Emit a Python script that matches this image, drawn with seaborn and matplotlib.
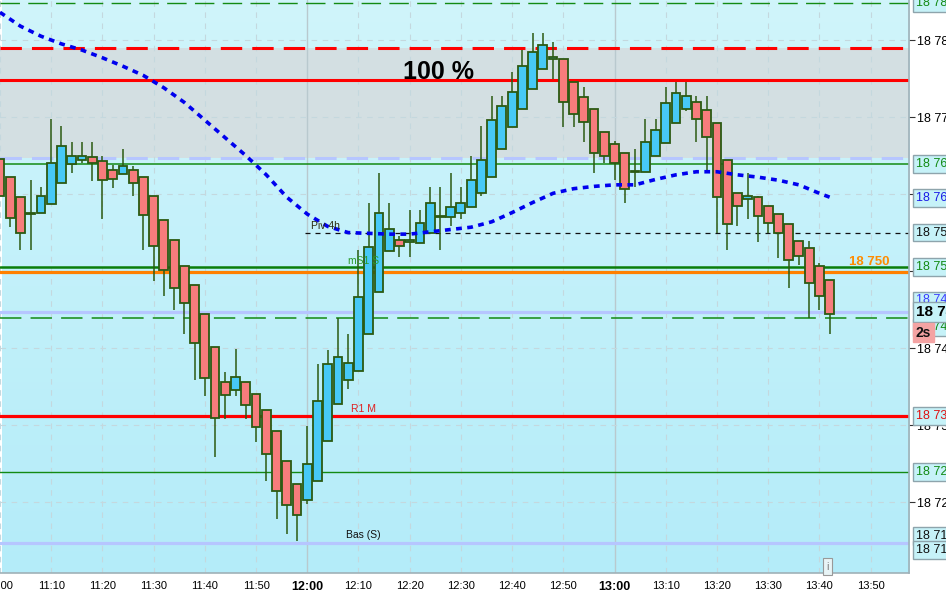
import numpy as np
import pandas as pd
import matplotlib
matplotlib.use("Agg")
import matplotlib.pyplot as plt
import seaborn as sns

# 2-minute candles from 11:00 to 13:42
times = pd.date_range("11:00", periods=82, freq="2min")
opens = [18764.5, 18762.2, 18759.6, 18757.4, 18757.5, 18758.7, 18761.4, 18763.9, 18764.4, 18764.8, 18764.3,
         18763.1, 18762.6, 18763.1, 18762.2, 18759.8, 18756.6, 18754.0, 18750.6, 18748.2, 18744.4,
         18740.2, 18735.6, 18734.6, 18735.6, 18734.0, 18731.9, 18729.2, 18725.4, 18722.4, 18720.3,
         18722.7, 18727.9, 18732.8, 18735.8, 18737.0, 18741.8, 18747.3, 18752.6, 18754.0, 18753.8,
         18753.7, 18755.0, 18757.0, 18757.0, 18757.6, 18758.3, 18760.1, 18762.2, 18765.9, 18768.7,
         18771.0, 18773.7, 18776.2, 18777.6, 18777.6, 18774.6, 18772.6, 18771.0, 18768.1, 18766.5,
         18765.3, 18762.9, 18762.9, 18764.9, 18766.6, 18769.2, 18771.1, 18772.0, 18770.9, 18769.2,
         18764.4, 18760.2, 18759.4, 18759.6, 18758.4, 18757.4, 18756.1, 18753.9, 18753.0, 18750.7,
         18748.8]
highs = [18764.5, 18762.2, 18759.6, 18761.8, 18760.9, 18769.8, 18768.8, 18766.8, 18766.8, 18766.8, 18764.9,
         18763.8, 18765.8, 18763.7, 18762.2, 18759.8, 18756.6, 18754.0, 18750.6, 18748.2, 18744.4,
         18740.2, 18736.9, 18739.9, 18735.6, 18734.0, 18731.9, 18729.2, 18725.4, 18722.4, 18729.9,
         18737.9, 18739.8, 18743.9, 18741.8, 18752.8, 18758.8, 18762.8, 18758.8, 18754.5, 18757.9,
         18757.9, 18760.9, 18760.9, 18762.8, 18760.9, 18764.9, 18768.8, 18772.8, 18772.8, 18775.8,
         18778.7, 18780.9, 18780.9, 18779.8, 18777.6, 18774.6, 18773.9, 18771.0, 18768.1, 18766.9,
         18765.3, 18765.8, 18769.8, 18769.8, 18773.9, 18774.5, 18774.5, 18772.8, 18772.8, 18769.2,
         18764.4, 18760.2, 18762.8, 18759.8, 18758.4, 18757.4, 18756.1, 18753.9, 18753.9, 18751.0,
         18748.8]
lows = [18759.7, 18755.7, 18752.7, 18752.7, 18757.5, 18758.7, 18761.4, 18762.8, 18764.0, 18761.7, 18756.8,
        18760.8, 18762.6, 18759.8, 18752.7, 18748.7, 18746.8, 18744.9, 18741.8, 18735.8, 18733.8,
        18725.8, 18730.8, 18733.8, 18730.8, 18727.8, 18722.8, 18717.8, 18715.8, 18715.0, 18719.8,
        18722.7, 18727.9, 18732.8, 18734.7, 18737.0, 18741.8, 18747.3, 18752.6, 18751.8, 18751.8,
        18753.7, 18755.0, 18752.8, 18755.8, 18756.8, 18758.3, 18759.8, 18762.2, 18765.9, 18768.7,
        18771.0, 18773.7, 18776.2, 18774.9, 18768.7, 18768.7, 18766.8, 18762.8, 18764.0, 18761.8,
        18758.8, 18760.9, 18762.9, 18764.9, 18766.6, 18769.2, 18770.8, 18766.8, 18762.8, 18754.9,
        18752.8, 18755.8, 18756.8, 18753.8, 18754.9, 18751.7, 18747.8, 18750.8, 18743.9, 18745.0,
        18741.8]
closes = [18759.7, 18756.9, 18755.0, 18757.6, 18759.8, 18764.1, 18766.3, 18765.0, 18765.0, 18764.1, 18761.8,
          18762.0, 18763.6, 18761.5, 18757.3, 18753.3, 18750.1, 18747.8, 18745.8, 18740.6, 18736.1,
          18730.9, 18733.9, 18736.3, 18732.6, 18729.8, 18726.3, 18721.5, 18719.6, 18718.3, 18725.0,
          18733.1, 18737.9, 18738.8, 18738.1, 18746.6, 18753.1, 18757.6, 18755.5, 18753.3, 18754.0,
          18756.3, 18758.8, 18757.2, 18758.3, 18758.8, 18761.8, 18764.4, 18769.6, 18771.4, 18773.3,
          18776.6, 18778.5, 18779.3, 18777.8, 18772.0, 18770.4, 18769.3, 18765.3, 18764.9, 18764.1,
          18760.6, 18763.0, 18766.8, 18768.3, 18771.8, 18773.1, 18772.8, 18769.8, 18767.4, 18759.6,
          18756.1, 18758.5, 18759.8, 18757.1, 18756.3, 18754.9, 18751.5, 18752.0, 18748.5, 18746.8,
          18744.4]

# moving average (blue dotted), read every 4 minutes
ma_min = [0, 4, 8, 12, 16, 20, 24, 28, 32, 36, 40, 44, 48, 52, 56, 60, 64, 68, 72, 76, 80, 84,
          88, 92, 96, 100, 104, 108, 112, 116, 120, 124, 128, 132, 136, 140, 144, 148, 152, 156, 160, 162]
ma_val = [18783.6, 18781.8, 18780.5, 18779.5, 18778.7, 18777.7, 18776.6, 18775.4, 18773.8, 18771.9,
          18769.6, 18767.3, 18765.0, 18762.5, 18759.6, 18757.4, 18755.8, 18755.0, 18754.9, 18754.8,
          18754.8, 18755.1, 18755.4, 18755.7, 18756.4, 18757.6, 18758.9, 18760.1, 18760.7, 18761.0,
          18761.2, 18761.2, 18761.9, 18762.5, 18762.9, 18762.9, 18762.5, 18762.2, 18761.8, 18761.2,
          18760.1, 18759.6]

# price levels drawn across the chart
lvl_green_top = 18784.8
lvl_red_dash = 18779.0
lvl_red_top = 18774.8
lvl_lav_dash = 18764.7
lvl_green_mid = 18763.9
lvl_piv = 18755.0
lvl_ms1 = 18750.5
lvl_orange = 18749.9
lvl_lav_mid = 18744.7
lvl_green_dash = 18743.9
lvl_r1 = 18731.2
lvl_green_low = 18723.9
lvl_bas = 18714.7

yticks = [18720, 18730, 18740, 18750, 18760, 18770, 18780]
xtick_labels = ["11:00", "11:10", "11:20", "11:30", "11:40", "11:50", "12:00", "12:10", "12:20",
                "12:30", "12:40", "12:50", "13:00", "13:10", "13:20", "13:30", "13:40", "13:50"]

# right-side price tags: (price, text, colour)
tags = [(18784.8, "18 785", "#138a13"), (18763.9, "18 764", "#138a13"), (18759.5, "18 760", "#1a1ae6"),
        (18755.0, "18 755", "#111111"), (18750.5, "18 751", "#138a13"), (18746.2, "18 749", "#3a3aff"),
        (18742.7, "18 744", "#138a13"), (18731.2, "18 731", "#e01010"), (18723.9, "18 724", "#138a13"),
        (18715.6, "18 715", "#111111"), (18713.8, "18 715", "#111111")]

sns.set_style("white")
plt.rcParams["font.family"] = ["Liberation Sans", "DejaVu Sans"]
plt.rcParams["text.color"] = "black"
plt.rcParams["xtick.color"] = "black"
plt.rcParams["ytick.color"] = "black"

df = pd.DataFrame({"t": times, "o": opens, "h": highs, "l": lows, "c": closes})
df["m"] = (df["t"] - df["t"].iloc[0]).dt.total_seconds() / 60
df["up"] = df["c"] >= df["o"]
ma = pd.DataFrame({"m": ma_min, "v": ma_val})

fig = plt.figure(figsize=(9.46, 5.91), dpi=100)
ax = fig.add_axes([0, 18 / 591, 909 / 946, 573 / 591])
x0, x1 = 0.39, 177.5
y0, y1 = 18710.8, 18785.2
ax.set_xlim(x0, x1)
ax.set_ylim(y0, y1)

# background gradient (lighter at the top) + grey zone
grad = np.linspace(0, 1, 256).reshape(-1, 1)
cmap = matplotlib.colors.LinearSegmentedColormap.from_list("bg", ["#d0f5fb", "#b4ecf9"])
ax.imshow(grad, extent=[x0, x1, y0, y1], aspect="auto", cmap=cmap, zorder=0, origin="upper")
ax.axhspan(lvl_lav_dash, lvl_red_dash, color="#d3dfe2", zorder=0.2, lw=0)

# grid
for m in range(0, 180, 10):
    if m in (60, 120):
        ax.axvline(m, color="#b9c9ce", lw=1, zorder=0.5)
    else:
        ax.axvline(m, color="#c4d8de", lw=0.8, ls=(0, (5, 5)), zorder=0.5)
for p in yticks:
    ax.axhline(p, color="#c4d8de", lw=0.8, ls=(0, (5, 5)), zorder=0.5)

# levels
ax.axhline(lvl_green_top, color="#138a13", lw=1, ls=(0, (14, 6)), zorder=1)
ax.axhline(lvl_red_dash, color="#ff0000", lw=2.2, ls=(0, (7, 3.3)), zorder=1)
ax.axhline(lvl_red_top, color="#ff0000", lw=2.2, zorder=1)
ax.axhline(lvl_lav_dash, color="#b6c6ff", lw=2.2, ls=(0, (7, 3.3)), zorder=1)
ax.axhline(lvl_green_mid, color="#138a13", lw=1.1, zorder=1)
ax.hlines(lvl_piv, 59.5, x1, color="#111111", lw=0.9, ls=(0, (4, 4)), zorder=1)
ax.axhline(lvl_ms1, color="#0a7d0a", lw=1.8, zorder=1)
ax.axhline(lvl_orange, color="#ff8000", lw=2.3, zorder=1)
ax.axhline(lvl_lav_mid, color="#b6c6ff", lw=2.3, zorder=1)
ax.axhline(lvl_green_dash, color="#138a13", lw=1.1, ls=(0, (14, 6)), zorder=1)
ax.axhline(lvl_r1, color="#ff0000", lw=2.3, zorder=1)
ax.axhline(lvl_green_low, color="#138a13", lw=1, zorder=1)
ax.axhline(lvl_bas, color="#b6c6ff", lw=2.3, zorder=1)

# candles
edge = "#2b5a12"
ax.vlines(df["m"], df["l"], df["h"], color=edge, lw=1.1, zorder=2)
body_lo = df[["o", "c"]].min(axis=1)
body_h = (df["c"] - df["o"]).abs().clip(lower=0.12)
ax.bar(df["m"], body_h, bottom=body_lo, width=1.72,
       color=np.where(df["up"], "#47c9f6", "#f77c7c"), edgecolor=edge, lw=1.3, zorder=3)

# moving average
sns.lineplot(data=ma, x="m", y="v", ax=ax, color="#0000ee", lw=2.6,
             linestyle=(0, (1.6, 1.5)), zorder=4, legend=False)
ax.set_xlabel("")
ax.set_ylabel("")

# chart texts
ax.text(85.7, 18775.8, "100 %", fontsize=18, fontweight="bold", color="black",
        ha="center", va="center", zorder=5)
ax.text(169.7, 18751.2, "18 750", fontsize=9.5, fontweight="bold", color="#ff8c00",
        ha="center", va="center", zorder=5)
ax.text(60.8, 18755.8, "Piv 4h", fontsize=7.5, color="#2a2a10", va="center", zorder=5)
ax.text(68.0, 18751.3, "mS1 S", fontsize=7.5, color="#2a9a2a", va="center", zorder=5)
ax.text(68.6, 18732.1, "R1 M", fontsize=7.5, color="#e02020", va="center", zorder=5)
ax.text(67.6, 18715.7, "Bas (S)", fontsize=7.5, color="#111111", va="center", zorder=5)
ax.text(161.6, 18711.6, "i", fontsize=7.5, color="#777777", ha="center", va="center", zorder=5,
        bbox=dict(boxstyle="square,pad=0.35", fc="#e8f4f6", ec="#999999", lw=0.8))

# axes, ticks
ax.yaxis.tick_right()
ax.set_yticks(yticks)
ax.set_yticklabels([f"{v:,}".replace(",", " ") for v in yticks], fontsize=9)
ax.set_xticks(list(range(0, 180, 10)))
ax.set_xticklabels(xtick_labels, fontsize=8)
for lab in ax.get_xticklabels():
    if lab.get_text() in ("12:00", "13:00"):
        lab.set_fontweight("bold")
        lab.set_fontsize(9)
ax.tick_params(axis="both", length=4, width=0.8, color="#333333", pad=2, direction="out")
for s in ("top", "left"):
    ax.spines[s].set_visible(False)
for s in ("right", "bottom"):
    ax.spines[s].set_color("#9fb1b8")
    ax.spines[s].set_linewidth(1.2)

tr = ax.get_yaxis_transform()
for price, txt, col in tags:
    ax.text(1.0075, price, txt, transform=tr, fontsize=9, color=col, va="center", ha="left",
            clip_on=False, zorder=6,
            bbox=dict(boxstyle="square,pad=0.22", fc="#c6f2f8", ec="#8ea4ac", lw=1))
ax.text(1.0075, lvl_lav_mid, "18 744", transform=tr, fontsize=11, fontweight="bold", color="#000000",
        va="center", ha="left", clip_on=False, zorder=7,
        bbox=dict(boxstyle="square,pad=0.18", fc="#c6f2f8", ec="#8ea4ac", lw=1))
ax.text(1.0075, 18742.0, "2s", transform=tr, fontsize=10, fontweight="bold", color="#111111",
        va="center", ha="left", clip_on=False, zorder=8,
        bbox=dict(boxstyle="square,pad=0.2", fc="#f4a3a3", ec="#f4a3a3", lw=1))

fig.savefig("out.png", dpi=100, facecolor="white")
